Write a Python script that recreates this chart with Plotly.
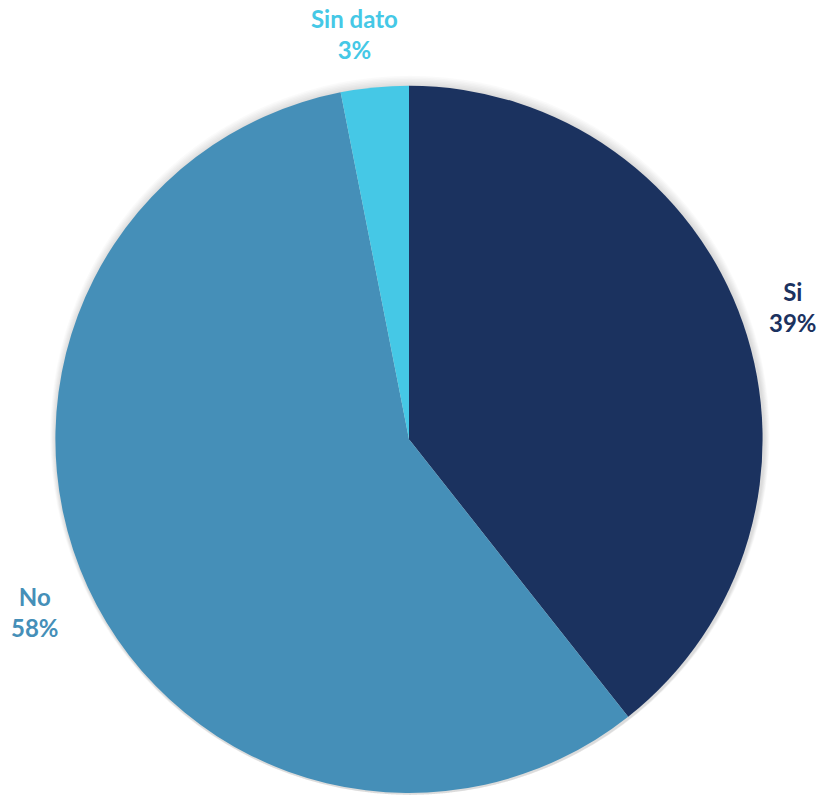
import plotly.graph_objects as go

labels = ["Si", "No", "Sin dato"]
values = [39.4, 57.6, 3.1]
colors = ["#1B325F", "#458FB8", "#45C8E6"]
label_pos = [(793, 307), (35, 612), (354, 34)]  # label centers in px

W, H = 825, 795
cx, cy, r = 409.0, 439.3, 353.6

def dom(rad, dx=0.0, dy=0.0):
    return dict(x=[(cx + dx - rad) / W, (cx + dx + rad) / W],
                y=[max(0.0, (H - (cy + dy + rad)) / H), (H - (cy + dy - rad)) / H])

fig = go.Figure()
# soft shadow rings behind the pie
for extra in [11, 9.5, 8, 6.5, 5, 3.5, 2]:
    fig.add_trace(go.Pie(
        values=[1], labels=["shadow"], sort=False,
        marker=dict(colors=["rgba(0,0,0,0.018)"], line=dict(width=0)),
        textinfo="none", hoverinfo="skip", showlegend=False,
        domain=dom(r + extra, 1, 1),
    ))

fig.add_trace(go.Pie(
    labels=labels,
    values=values,
    sort=False,
    direction="clockwise",
    rotation=0,
    marker=dict(colors=colors, line=dict(width=0)),
    textinfo="none",
    domain=dom(r),
    showlegend=False,
    hoverinfo="skip",
))

total = sum(values)
for lab, val, col, (px, py) in zip(labels, values, colors, label_pos):
    pct = round(100 * val / total)
    fig.add_annotation(
        x=px / W, y=(H - py) / H, xref="paper", yref="paper",
        text=f"<b>{lab}</b><br><b>{pct}%</b>", showarrow=False,
        font=dict(family="Lato", size=24, color=col),
        xanchor="center", yanchor="middle", align="center",
    )

fig.update_layout(
    width=W, height=H,
    margin=dict(l=0, r=0, t=0, b=0),
    paper_bgcolor="white",
    plot_bgcolor="white",
)
fig.write_html(
    "out.html",
    config={"displayModeBar": False, "staticPlot": True},
    post_script="document.body.style.margin='0';document.body.style.overflow='hidden';",
)
